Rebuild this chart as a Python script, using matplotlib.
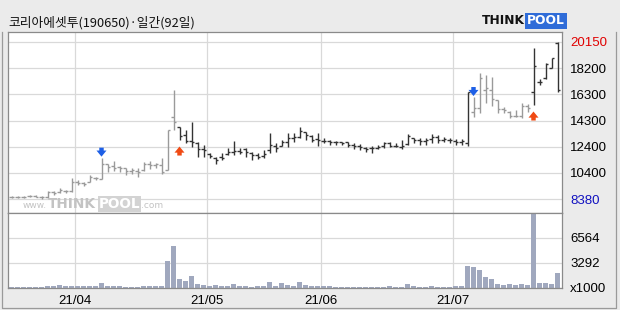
import numpy as np
import matplotlib
matplotlib.use('Agg')
import matplotlib.pyplot as plt
from matplotlib.lines import Line2D

# ---------------- data ----------------
title = '코리아에셋투(190650)·일간(92일)'
month_labels = ['21/04', '21/05', '21/06', '21/07']
month_starts = [11, 33, 52, 74]          # index of first trading day of each month

opens = [8525, 8525, 8525, 8600, 8600, 8525, 8525, 8900, 8900, 8975,
         8975, 9650, 9575, 9650, 9950, 9875, 11000, 10850, 10775, 10700,
         10475, 10475, 10550, 11000, 10925, 10925, 10550, 14525, 13775, 13175,
         12725, 12575, 12125, 11750, 11450, 11525, 11750, 11900, 11975, 12125,
         11825, 11675, 11600, 12050, 12350, 12350, 12650, 12950, 13025, 13400,
         13100, 12875, 12725, 12725, 12650, 12650, 12650, 12425, 12350, 12200,
         12200, 12200, 12350, 12575, 12350, 12275, 12500, 12950, 12800, 12725,
         12875, 13025, 12800, 12800, 12725, 12650, 12575, 14900, 15200, 16550,
         16550, 15800, 15125, 14900, 14600, 14600, 15350, 16400, 17150, 17450,
         18200, 20075]
highs = [8600, 8600, 8600, 8675, 8675, 8600, 8975, 8975, 9200, 9050,
         9950, 9800, 9650, 10175, 10025, 11480, 11000, 11225, 10870, 10700,
         10720, 10700, 11150, 11225, 11075, 11450, 13550, 16550, 13775, 13550,
         14150, 12650, 12425, 11825, 11525, 11825, 12200, 12725, 12200, 12200,
         11900, 11825, 12050, 13325, 12575, 12800, 13325, 13325, 13775, 13400,
         13175, 13325, 12950, 12800, 12725, 12650, 12650, 12575, 12500, 12275,
         12350, 12425, 12650, 12650, 12575, 12800, 13250, 12950, 12950, 12950,
         13250, 13175, 13025, 12950, 12875, 12875, 16400, 16025, 17825, 17675,
         17525, 15800, 15275, 14975, 15050, 15575, 15500, 19700, 17375, 18575,
         18950, 20150]
lows = [8450, 8450, 8450, 8525, 8525, 8380, 8450, 8675, 8825, 8825,
        8900, 9425, 9350, 9650, 9800, 9875, 10400, 10475, 10380, 10175,
        10230, 10050, 10475, 10625, 10700, 10250, 10550, 13550, 12800, 12575,
        12275, 11525, 11525, 11450, 11000, 11300, 11675, 11675, 11750, 11525,
        11300, 11375, 11450, 11825, 11900, 12350, 12275, 12650, 12950, 12800,
        12650, 12350, 12575, 12425, 12425, 12425, 12275, 12125, 12050, 11900,
        11825, 12125, 12200, 12275, 12275, 12125, 12425, 12575, 12425, 12425,
        12575, 12575, 12650, 12575, 12425, 12425, 12350, 14525, 14825, 15575,
        15350, 14825, 14825, 14450, 14525, 14450, 14900, 15425, 16925, 17375,
        18200, 16400]
closes = [8525, 8560, 8525, 8600, 8560, 8525, 8900, 8825, 9050, 8975,
          9650, 9575, 9500, 10025, 9950, 11000, 10800, 10720, 10700, 10475,
          10550, 10400, 11000, 10925, 11000, 10400, 13550, 14150, 13100, 12725,
          12650, 12125, 12050, 11600, 11300, 11450, 11900, 11975, 11900, 11900,
          11675, 11525, 11750, 12425, 12200, 12650, 12950, 13025, 13475, 13175,
          12800, 12800, 12725, 12650, 12650, 12575, 12425, 12350, 12275, 12125,
          12200, 12275, 12575, 12350, 12350, 12350, 13100, 12800, 12725, 12800,
          13025, 12800, 12875, 12800, 12650, 12725, 16400, 15200, 17450, 16700,
          15875, 15125, 15050, 14600, 14600, 15350, 15200, 18350, 17150, 18500,
          18950, 16550]
volumes = [120, 110, 130, 120, 110, 130, 200, 150, 300, 140,
           260, 250, 150, 160, 170, 620, 180, 150, 140, 130,
           120, 130, 160, 140, 150, 200, 3450, 5420, 1100, 840,
           1490, 450, 300, 150, 300, 150, 160, 450, 150, 140,
           130, 150, 160, 700, 200, 550, 300, 150, 700, 300,
           200, 250, 150, 140, 130, 120, 130, 120, 130, 120,
           130, 120, 130, 140, 120, 130, 450, 140, 130, 130,
           140, 130, 120, 130, 140, 150, 2800, 2680, 2280, 1400,
           1100, 450, 300, 450, 300, 450, 300, 9620, 620, 620,
           450, 1930]            # x1000 shares

price_tick_labels = ['8380', '10400', '12400', '14300', '16300', '18200', '20150']
vol_tick_values = [0, 3292, 6564]
vol_tick_labels = ['x1000', '3292', '6564']
sell_signals = [15, 77]
buy_signals = [28, 87]

# ---------------- figure ----------------
W, H = 620, 310
fig = plt.figure(figsize=(W / 100, H / 100), dpi=100, facecolor='#ebebeb')


def fx(px):
    return px / W


def fy(py):
    return 1 - py / H


L, R, T, MID, B = 8, 562, 32, 213, 288
ax = fig.add_axes([fx(L), fy(MID), fx(R) - fx(L), fy(T) - fy(MID)])
axv = fig.add_axes([fx(L), fy(B), fx(R) - fx(L), fy(MID) - fy(B)])

n = len(opens)
x = np.arange(n)
xl = (-(11.5 - L) / 6, (R - 11.5) / 6)

# bar colours: dark after buy signal, grey after sell signal
cols = []
state = '#9a9a9a'
for i in range(n):
    if i in buy_signals:
        state = '#333333'
    if i in sell_signals:
        state = '#9a9a9a'
    cols.append(state)

pmin, pmax = min(lows), max(highs)
s = (pmax - pmin) / 157.0
grid_vals = np.linspace(pmin, pmax, 7)

grid_c = '#d9d9d9'
spine_c = '#8a8a8a'
lab_font = ['Liberation Sans Narrow', 'Liberation Sans', 'DejaVu Sans']
lab_size = 9.5

for a in (ax, axv):
    a.set_facecolor('white')
    a.set_xlim(*xl)
    a.set_xticks([m - 0.5 for m in month_starts])
    a.grid(True, color=grid_c, lw=0.9)
    a.set_axisbelow(True)
    for sp in a.spines.values():
        sp.set_color(spine_c)
        sp.set_linewidth(0.9)

# price panel
ax.set_ylim(pmin - 14 * s, pmax + 10 * s)
ax.vlines(x, lows, highs, colors=cols, lw=1.0)
ax.hlines(opens, x - 0.4, x, colors=cols, lw=1.0)
ax.hlines(closes, x, x + 0.4, colors=cols, lw=1.0)
ax.set_yticks(grid_vals)
ax.set_yticklabels(price_tick_labels)
ax.yaxis.tick_right()
ax.tick_params(axis='y', length=0, pad=6, labelsize=lab_size)
ax.tick_params(axis='x', length=0, labelbottom=False)
for t in ax.get_yticklabels():
    t.set_family(lab_font)
ylabels = ax.get_yticklabels()
ylabels[0].set_color('#1010c0')
ylabels[-1].set_color('#e00000')

# signal arrows
for i in sell_signals:
    ax.annotate('', xy=(i, highs[i] + 1.0 * s), xytext=(i, highs[i] + 10 * s),
                arrowprops=dict(arrowstyle='simple,head_width=0.9,head_length=0.55,tail_width=0.4',
                                color='#1d5fe6', mutation_scale=8, shrinkA=0, shrinkB=0, lw=0))
for i in buy_signals:
    ax.annotate('', xy=(i, lows[i] - 6.5 * s), xytext=(i, lows[i] - 15.5 * s),
                arrowprops=dict(arrowstyle='simple,head_width=0.9,head_length=0.55,tail_width=0.4',
                                color='#f04a14', mutation_scale=8, shrinkA=0, shrinkB=0, lw=0))

# volume panel
vs = 3292 / 25.0
axv.set_ylim(-0.5 * vs, 74.5 * vs)
axv.bar(x, volumes, width=0.72, color='#a0a8be', linewidth=0)
axv.set_yticks(vol_tick_values)
axv.set_yticklabels(vol_tick_labels)
axv.yaxis.tick_right()
axv.tick_params(axis='y', length=0, pad=6, labelsize=lab_size)
axv.set_xticklabels(month_labels)
axv.tick_params(axis='x', length=0, pad=5, labelsize=lab_size)
for t in axv.get_yticklabels() + axv.get_xticklabels():
    t.set_family(lab_font)

# title
fig.text(fx(8), fy(23), title, fontsize=9.2, va='center', ha='left',
         family=['Noto Sans CJK KR', 'DejaVu Sans'], color='#111111')

# THINKPOOL logo (top right)
fig.text(fx(482), fy(21), 'THINK', fontsize=8.8, fontweight='bold', va='center', ha='left',
         color='#111111', family='DejaVu Sans')
fig.text(fx(527), fy(21), 'POOL', fontsize=8.8, fontweight='bold', va='center', ha='left',
         color='white', family='DejaVu Sans',
         bbox=dict(boxstyle='square,pad=0.15', facecolor='#2f6cd8', edgecolor='none'))

# watermark
wm = '#c3c3c3'
fig.text(fx(23), fy(206), 'www.', fontsize=6.5, va='center', ha='left', color=wm)
fig.text(fx(48), fy(204), 'THINK', fontsize=9.8, fontweight='bold', va='center', ha='left', color=wm)
fig.text(fx(99), fy(204), 'POOL', fontsize=9.8, fontweight='bold', va='center', ha='left', color='white',
         bbox=dict(boxstyle='square,pad=0.05', facecolor='#d3d3d3', edgecolor='none'))
fig.text(fx(141), fy(206), '.com', fontsize=6.5, va='center', ha='left', color=wm)

# outer frame (sides and bottom)
frame_c = '#9a9a9a'
fig.lines.append(Line2D([fx(2), fx(2), fx(616), fx(616)], [fy(32), fy(308), fy(308), fy(32)],
                        transform=fig.transFigure, color=frame_c, lw=0.9))

fig.savefig('out.png', dpi=100, facecolor=fig.get_facecolor())
